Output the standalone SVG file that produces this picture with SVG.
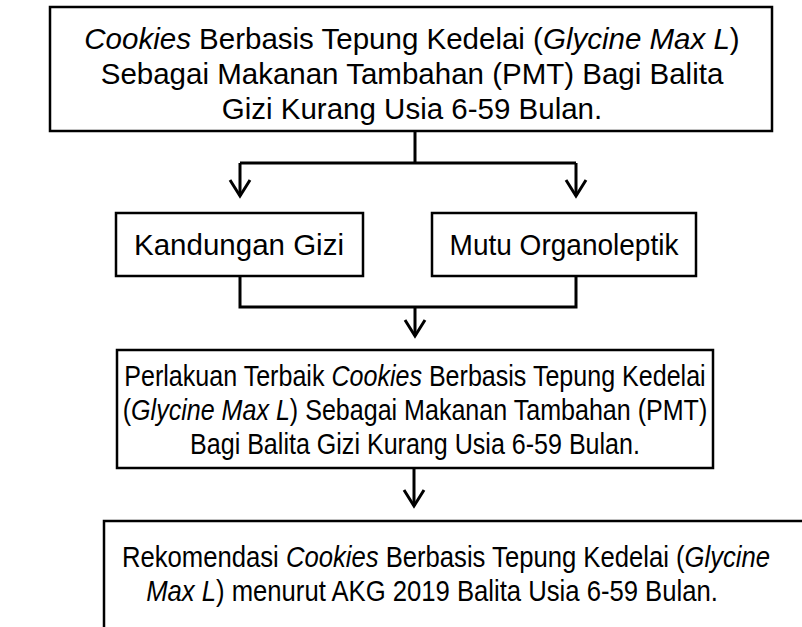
<svg xmlns="http://www.w3.org/2000/svg" width="802" height="627" viewBox="0 0 802 627">
<defs>
<style>
.box{fill:#fff;stroke:#000;stroke-width:2.5}
.t{font-family:"Liberation Sans",Arial,sans-serif;font-size:29.5px;fill:#000;text-anchor:middle}
.i{font-style:italic}
.c{fill:none;stroke:#000;stroke-width:3}
.ah{fill:none;stroke:#000;stroke-width:3;stroke-linejoin:miter}
</style>
</defs>
<rect width="802" height="627" fill="#fff"/>
<g id="connectors">
<path class="c" d="M415,131 V163 M240,163 H576 M240,163 V196 M576,163 V196"/>
<path class="ah" d="M230,180 L240,196 L250,180 M566,180 L576,196 L586,180"/>
<path class="c" d="M240,276 V307 H576 V276 M415,307 V336"/>
<path class="ah" d="M405,320 L415,336 L425,320"/>
<path class="c" d="M414,468 V506"/>
<path class="ah" d="M404,490 L414,506 L424,490"/>
</g>
<g id="node-top">
<rect class="box" x="50" y="7" width="722" height="124"/>
<text class="t" x="412" y="49"><tspan class="i">Cookies</tspan> Berbasis Tepung Kedelai (<tspan class="i">Glycine Max L</tspan>)</text>
<text class="t" x="412" y="84">Sebagai Makanan Tambahan (PMT) Bagi Balita</text>
<text class="t" x="412" y="119">Gizi Kurang Usia 6-59 Bulan.</text>
</g>
<g id="node-gizi">
<rect class="box" x="116" y="213" width="247" height="63"/>
<text class="t" x="239" y="255">Kandungan Gizi</text>
</g>
<g id="node-mutu">
<rect class="box" x="432" y="213" width="264" height="63"/>
<g transform="translate(564 0) scale(0.95 1)"><text class="t" x="0" y="255">Mutu Organoleptik</text></g>
</g>
<g id="node-perlakuan">
<rect class="box" x="117" y="350" width="596" height="118"/>
<g transform="translate(415 0) scale(0.85 1)">
<text class="t" x="0" y="386">Perlakuan Terbaik <tspan class="i">Cookies</tspan> Berbasis Tepung Kedelai</text>
<text class="t" x="0" y="420">(<tspan class="i">Glycine Max L</tspan>) Sebagai Makanan Tambahan (PMT)</text>
<text class="t" x="0" y="454">Bagi Balita Gizi Kurang Usia 6-59 Bulan.</text>
</g>
</g>
<g id="node-rekomendasi">
<rect class="box" x="104" y="521" width="740" height="140"/>
<g transform="translate(446 0) scale(0.87 1)">
<text class="t" x="0" y="567">Rekomendasi <tspan class="i">Cookies</tspan> Berbasis Tepung Kedelai (<tspan class="i">Glycine</tspan></text>
</g>
<g transform="translate(432 0) scale(0.87 1)">
<text class="t" x="0" y="601"><tspan class="i">Max L</tspan>) menurut AKG 2019 Balita Usia 6-59 Bulan.</text>
</g>
</g>
</svg>
